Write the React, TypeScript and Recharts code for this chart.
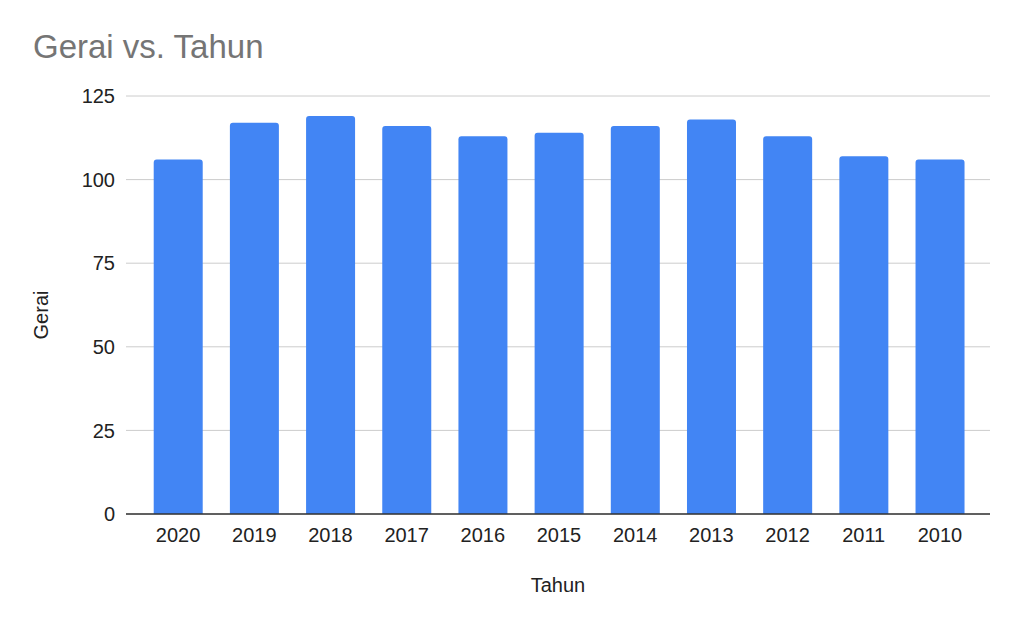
import React from 'react';
import { BarChart, Bar, XAxis, YAxis, CartesianGrid } from 'recharts';

const years = ['2020', '2019', '2018', '2017', '2016', '2015', '2014', '2013', '2012', '2011', '2010'];
const gerai = [106, 117, 119, 116, 113, 114, 116, 118, 113, 107, 106];
const yTicks = [0, 25, 50, 75, 100, 125];

const data = years.map((y, i) => ({ tahun: y, gerai: gerai[i] }));

const FONT = '"Liberation Sans", Arial, sans-serif';

const YLabel = (props: any) => {
  const vb = props.viewBox || {};
  const cx = (vb.x ?? 0) + 41;
  const cy = (vb.y ?? 0) + (vb.height ?? 0) / 2 + 10;
  return (
    <text
      x={cx}
      y={cy}
      transform={`rotate(-90 ${cx} ${cy})`}
      textAnchor="middle"
      dominantBaseline="central"
      fontFamily={FONT}
      fontSize={20}
      fill="#222222"
    >
      Gerai
    </text>
  );
};

const XLabel = (props: any) => {
  const vb = props.viewBox || {};
  const cx = (vb.x ?? 0) + (vb.width ?? 0) / 2;
  const by = (vb.y ?? 0) + 78;
  return (
    <text x={cx} y={by} textAnchor="middle" fontFamily={FONT} fontSize={20} fill="#222222">
      Tahun
    </text>
  );
};

export default function App() {
  return (
    <div style={{ position: 'absolute', left: 0, top: 0, width: 1022, height: 627, background: '#fff' }}>
      <svg width={1022} height={90} style={{ position: 'absolute', left: 0, top: 0 }}>
        <text x={33} y={58} fontFamily={FONT} fontSize={33} fill="#757575">
          Gerai vs. Tahun
        </text>
      </svg>
      <BarChart
        width={1022}
        height={627}
        data={data}
        margin={{ top: 96, right: 32, bottom: 0, left: 0 }}
        barCategoryGap="18%"
      >
        <CartesianGrid vertical={false} stroke="#cccccc" />
        <XAxis
          dataKey="tahun"
          height={113}
          padding={{ left: 14, right: 12 }}
          tickLine={false}
          tickSize={0}
          tickMargin={14}
          axisLine={{ stroke: '#333333', strokeWidth: 1.5 }}
          tick={{ fontFamily: FONT, fontSize: 20, fill: '#222222' }}
          interval={0}
          label={<XLabel />}
        />
        <YAxis
          width={126}
          domain={[0, 125]}
          ticks={yTicks}
          axisLine={false}
          tickLine={false}
          tickSize={0}
          tickMargin={11}
          tick={{ fontFamily: FONT, fontSize: 20, fill: '#222222' }}
          label={<YLabel />}
        />
        <Bar dataKey="gerai" fill="#4285F4" radius={[3, 3, 0, 0]} isAnimationActive={false} />
      </BarChart>
    </div>
  );
}
